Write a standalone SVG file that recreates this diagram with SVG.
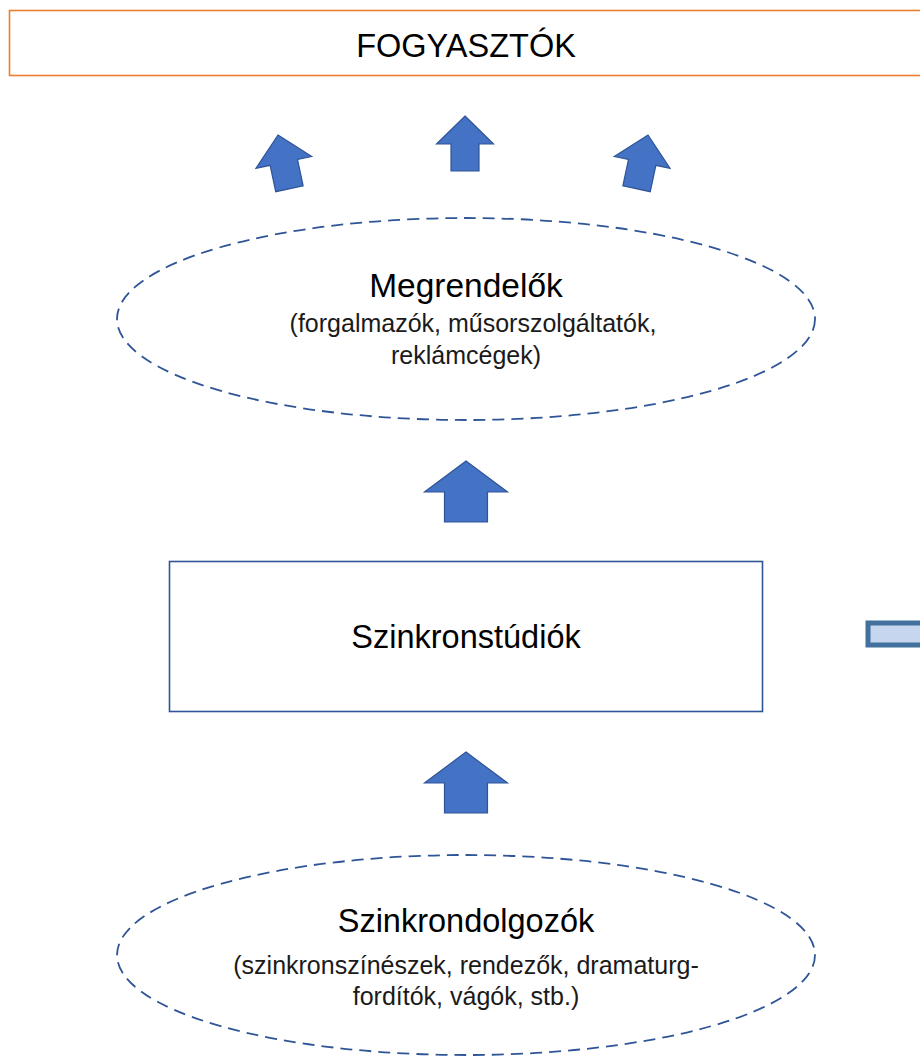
<svg xmlns="http://www.w3.org/2000/svg" xmlns:xlink="http://www.w3.org/1999/xlink" width="920" height="1058" viewBox="0 0 920 1058">
<style>
.t{font-family:"Liberation Sans",Arial,sans-serif;fill:#000;text-anchor:middle}
.big{font-size:32.5px}
.sub{font-size:25px;fill:#1a1a1a}
.ell{fill:#fff;stroke:#2F5597;stroke-width:1.8;stroke-dasharray:12 7}
.arr{fill:#4472C4;stroke:#2F5597;stroke-width:1.2}
</style>
<defs>
<path id="sa" d="M0,0 L28.5,28 L14,28 L14,55 L-14,55 L-14,28 L-28.5,28 Z"/>
<path id="la" d="M0,0 L41.5,31 L21.5,31 L21.5,61 L-21.5,61 L-21.5,31 L-41.5,31 Z"/>
</defs>
<rect width="920" height="1058" fill="#fff"/>
<g id="fogyasztok">
<rect x="9.5" y="10.5" width="920" height="65" fill="#fff" stroke="#ED7D31" stroke-width="1.6"/>
<text class="t big" x="466" y="57">FOGYASZTÓK</text>
</g>
<g id="connectors">
<use xlink:href="#sa" class="arr" transform="translate(278,135) rotate(-12)"/>
<use xlink:href="#sa" class="arr" transform="translate(465,116)"/>
<use xlink:href="#sa" class="arr" transform="translate(648,135) rotate(12)"/>
<use xlink:href="#la" class="arr" transform="translate(466,461)"/>
<use xlink:href="#la" class="arr" transform="translate(466,752)"/>
<rect x="868" y="623" width="60" height="22" fill="#C5D6EE" stroke="#41719C" stroke-width="5"/>
</g>
<g id="megrendelok">
<ellipse class="ell" cx="466" cy="319" rx="349" ry="101"/>
<text class="t big" x="466" y="297" style="font-size:33.5px">Megrendelők</text>
<text class="t sub" x="473" y="332">(forgalmazók, műsorszolgáltatók,</text>
<text class="t sub" x="466" y="364">reklámcégek)</text>
</g>
<g id="szinkronstudiok">
<rect x="169.5" y="561.5" width="593" height="150" fill="#fff" stroke="#2F5597" stroke-width="1.6"/>
<text class="t big" x="466" y="648">Szinkronstúdiók</text>
</g>
<g id="szinkrondolgozok">
<ellipse class="ell" cx="466" cy="955" rx="349" ry="100"/>
<text class="t big" x="466" y="932">Szinkrondolgozók</text>
<text class="t sub" x="466" y="974">(szinkronszínészek, rendezők, dramaturg-</text>
<text class="t sub" x="466" y="1005">fordítók, vágók, stb.)</text>
</g>
</svg>
